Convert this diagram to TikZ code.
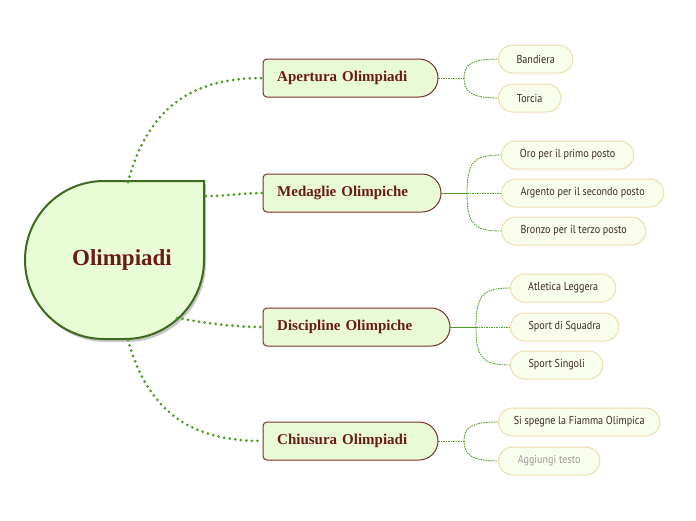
\documentclass[tikz,border=0pt]{standalone}
\usepackage{fontspec}
\setmainfont{Liberation Serif}
\newfontfamily\subfont[FakeStretch=0.88]{PT Sans}
\usetikzlibrary{shapes.misc}
\usetikzlibrary{shadows}
\definecolor{rootfill}{HTML}{E8FCD6}
\definecolor{rootline}{HTML}{3D6A1F}
\definecolor{topicfill}{HTML}{E9FBD6}
\definecolor{topicline}{HTML}{7B2D2D}
\definecolor{topictext}{HTML}{6B1A1A}
\definecolor{subfill}{HTML}{F8FDEC}
\definecolor{subline}{HTML}{EEDDAE}
\definecolor{subtext}{HTML}{3A2A25}
\definecolor{linkgreen}{HTML}{4F9A22}
\tikzstyle{central} = [fill=rootfill, draw=rootline, line width=2pt, drop shadow={shadow xshift=2pt, shadow yshift=-3pt, opacity=0.22, fill=black}]
\tikzstyle{topicbox} = [draw=topicline, line width=1pt, fill=topicfill]
\tikzstyle{topic} = [rectangle, minimum height=38pt, inner xsep=14pt, align=left, text=topictext, font=\bfseries\fontsize{15}{17}\selectfont, anchor=west]
\tikzstyle{subtopic} = [rounded rectangle, minimum height=28pt, draw=subline, line width=1pt, fill=subfill, text=subtext, font=\subfont\fontsize{11.5}{13}\selectfont, anchor=west]
\tikzstyle{mainlink} = [draw=linkgreen, line width=3pt, line cap=round, dash pattern=on 0pt off 5.6pt]
\tikzstyle{sublink} = [draw=linkgreen, line width=0.9pt, dash pattern=on 1.5pt off 1pt]
\tikzstyle{stem} = [draw=linkgreen, line width=1pt]
% outline of a main topic: #1 = middle y, #2 = right end x
\newcommand{\topicpath}[2]{%
    \path [topicbox] (#2-19,#1-19) -- (267,#1-19) .. controls (264.8,#1-19) and (263,#1-17.2) .. (263,#1-15)
        -- (263,#1+15) .. controls (263,#1+17.2) and (264.8,#1+19) .. (267,#1+19)
        -- (#2-19,#1+19) .. controls (#2-8.5,#1+19) and (#2,#1+10.5) .. (#2,#1)
        .. controls (#2,#1-10.5) and (#2-8.5,#1-19) .. cycle;}

\begin{document}
\begin{tikzpicture}[x=1pt, y=-1pt]

    \useasboundingbox (0,0) rectangle (696,520);

    % central topic
    \path [central] (204,181) -- (204,260) .. controls (204,303.6) and (168.6,339) .. (125,339)
        -- (104,339) .. controls (60.4,339) and (25,303.6) .. (25,260)
        .. controls (25,216.4) and (60.4,181) .. (104,181) -- cycle;
    \node (olimpiadi) [text=topictext, font=\bfseries\fontsize{23}{25}\selectfont] at (122,260) {Olimpiadi};

    \coordinate (rootN) at (128,182);
    \coordinate (rootE) at (206,196);
    \coordinate (rootSE) at (177,318);
    \coordinate (rootS) at (128,340);

    % main topics
    \topicpath{78}{438}
    \topicpath{193}{441}
    \topicpath{327}{450}
    \topicpath{441}{438}
    \node (apertura) [topic, text width=147pt] at (263,78) {Apertura Olimpiadi};
    \node (medaglie) [topic, text width=150pt] at (263,193) {Medaglie Olimpiche};
    \node (discipline) [topic, text width=159pt] at (263,327) {Discipline Olimpiche};
    \node (chiusura) [topic, text width=147pt] at (263,441) {Chiusura Olimpiadi};

    \draw [mainlink] (rootN) .. controls (150,100) and (200,78) .. (apertura.west);
    \draw [mainlink] (rootE) .. controls (230,196) and (240,193) .. (medaglie.west);
    \draw [mainlink] (rootSE) .. controls (200,322) and (230,327) .. (discipline.west);
    \draw [mainlink] (rootS) .. controls (150,420) and (200,441) .. (chiusura.west);

    % subtopics
    \node (bandiera) [subtopic, minimum width=81pt] at (498,59) {Bandiera};
    \node (torcia) [subtopic, minimum width=69pt] at (498,98) {Torcia};

    \node (oro) [subtopic, minimum width=139pt] at (501,155) {Oro per il primo posto};
    \node (argento) [subtopic, minimum width=169pt] at (501,193) {Argento per il secondo posto};
    \node (bronzo) [subtopic, minimum width=151pt] at (501,231) {Bronzo per il terzo posto};

    \node (atletica) [subtopic, minimum width=112pt] at (510,288) {Atletica Leggera};
    \node (squadra) [subtopic, minimum width=115pt] at (510,327) {Sport di Squadra};
    \node (singoli) [subtopic, minimum width=99pt] at (510,365) {Sport Singoli};

    \node (fiamma) [subtopic, minimum width=168pt] at (498,422) {Si spegne la Fiamma Olimpica};
    \node (aggiungi) [subtopic, minimum width=108pt, text=black!38] at (498,461) {Aggiungi testo};

    % branches
    \coordinate (aperturaB) at (464,78);
    \coordinate (medaglieB) at (467,193);
    \coordinate (disciplineB) at (476,327);
    \coordinate (chiusuraB) at (464,441);

    \draw [sublink] (apertura.east) -- (aperturaB);
    \draw [sublink] (aperturaB) .. controls (464,64) and (472,59) .. (bandiera.west);
    \draw [sublink] (aperturaB) .. controls (464,92) and (472,98) .. (torcia.west);

    \draw [stem] (medaglie.east) -- (medaglieB);
    \draw [sublink] (medaglieB) .. controls (467,162) and (474,155) .. (oro.west);
    \draw [sublink] (medaglieB) -- (argento.west);
    \draw [sublink] (medaglieB) .. controls (467,224) and (474,231) .. (bronzo.west);

    \draw [stem] (discipline.east) -- (disciplineB);
    \draw [sublink] (disciplineB) .. controls (476,295) and (483,288) .. (atletica.west);
    \draw [sublink] (disciplineB) -- (squadra.west);
    \draw [sublink] (disciplineB) .. controls (476,358) and (483,365) .. (singoli.west);

    \draw [sublink] (chiusura.east) -- (chiusuraB);
    \draw [sublink] (chiusuraB) .. controls (464,427) and (472,422) .. (fiamma.west);
    \draw [sublink] (chiusuraB) .. controls (464,455) and (472,461) .. (aggiungi.west);

\end{tikzpicture}
\end{document}
